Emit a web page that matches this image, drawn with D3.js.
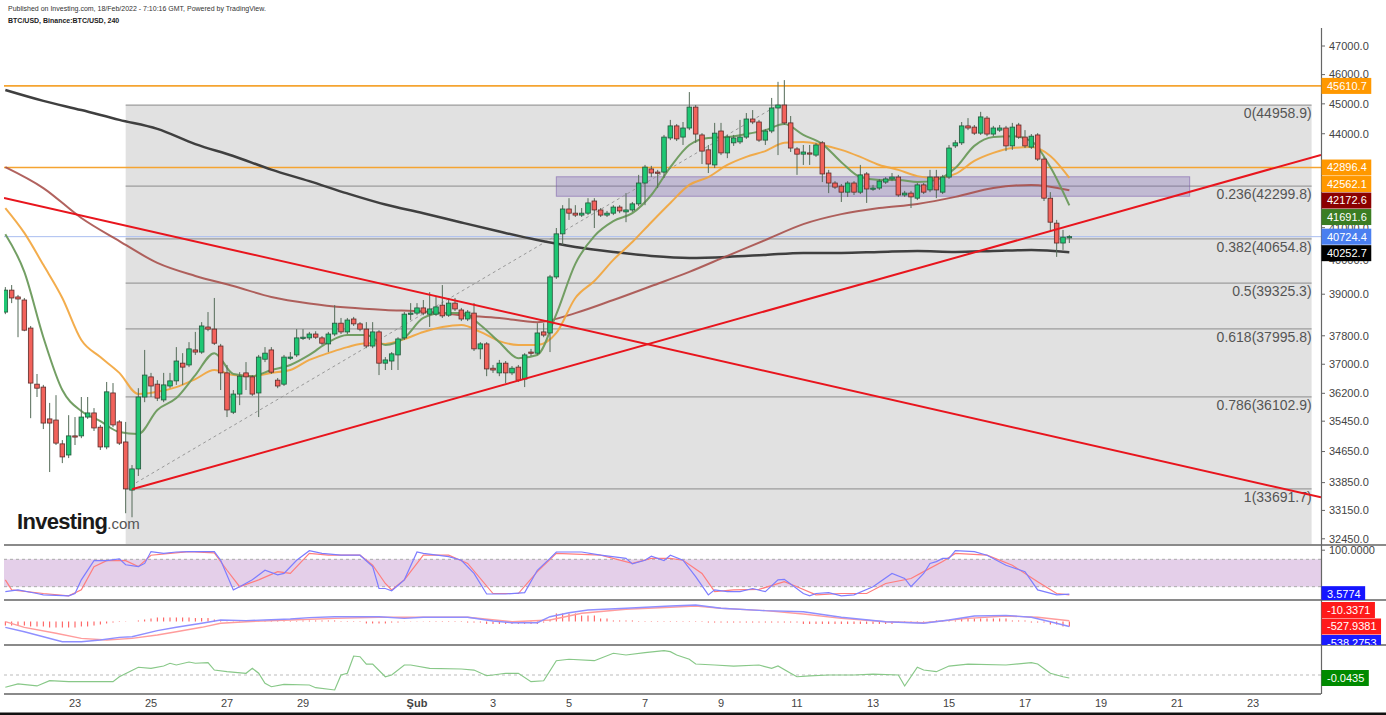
<!DOCTYPE html>
<html><head><meta charset="utf-8">
<script src="https://cdn.jsdelivr.net/npm/d3@7"></script>
<style>body{margin:0;background:#fff;overflow:hidden}svg{display:block;font-family:"Liberation Sans",Arial,sans-serif}</style>
</head><body><svg id="c" width="1386" height="715"></svg>
<script>
// ---------- DATA ----------
const candleOpen=[38480,39120,38920,38830,38020,36450,36370,35510,35480,34850,34560,35060,35060,35560,35670,35290,34770,36210,35430,34900,33660,34200,36100,36650,36450,36020,36400,36540,37030,36980,37400,37340,38050,37990,37510,36760,35690,36180,36760,36650,36210,37140,37400,36560,36450,37170,37260,37740,37740,37850,37740,37570,37850,38160,37910,38280,38140,37990,37510,37910,37030,37090,37260,37740,38420,38450,38600,38420,38420,38680,38390,38740,38540,38280,38450,37430,37570,36890,36760,37030,36760,36920,36590,37340,37310,37910,37880,39510,40810,41580,41450,41390,41450,41830,41550,41390,41450,41640,41490,41550,41740,42400,42850,42750,42750,43860,44260,43890,44190,44890,43960,43470,42980,44090,43370,43700,43730,43890,44490,44390,43790,44090,44860,44960,44360,43500,43330,43370,43300,43700,42720,42400,42300,42110,42400,42110,42690,42210,42240,42430,42530,42590,42020,42080,41920,42340,42180,42590,42110,42590,43600,43700,44260,44220,44020,44520,43990,44120,44190,43600,44290,43890,43560,43960,43170,41920,41140,40530,40710];
const candleHigh=[39210,39270,38980,38890,38080,36730,36430,35940,36150,34950,35610,35560,36100,36100,35800,35350,36510,36480,35480,35430,34300,36340,37400,36760,36560,36760,36760,37480,37310,37620,37910,38190,38480,38890,37570,36980,36290,36780,37060,36700,37260,37480,37480,36620,37260,37340,37990,37990,37910,37930,37790,37910,38680,38310,38310,38340,38190,38190,38190,37960,37200,37340,37760,38480,38740,38740,38830,39060,38920,39270,38890,38890,38600,38540,38740,37620,37620,36980,37120,37090,36950,36980,37310,37430,38160,38160,39570,40990,41700,41920,41700,41610,41920,41920,41610,41520,41700,41700,42080,41800,42660,42980,42950,42820,43960,44460,44320,44390,45400,44960,44020,43630,44360,44360,43960,43960,44460,44690,44790,44460,44160,45200,45750,45810,44590,43560,43630,43630,43700,43760,42820,42460,42370,42460,42460,42980,42750,42340,42530,42590,42720,42660,42150,42150,42400,42400,42820,42820,42660,43630,43790,44390,44520,44290,44730,44590,44260,44290,44260,44360,44360,44120,43990,44020,43240,42110,41240,40930,40770];
const candleLow=[38420,38740,37760,37930,35530,36100,35240,34120,34820,34350,34480,34820,35000,35510,35190,34690,34710,35290,34820,33080,32980,34020,35960,36100,35990,35960,36340,36430,36430,36920,37260,37290,37930,37540,36290,35560,35640,35880,36290,36130,35560,37060,36730,36340,36400,37120,37200,37680,37680,37710,37540,37340,37790,37850,37850,38080,37930,37450,37450,36700,36840,36840,36840,37680,38250,38390,38390,38050,38370,38310,38340,38510,38220,38220,37370,37140,36670,36760,36670,36480,36700,36510,36370,37230,37260,37760,37340,39450,40470,41240,41330,41330,41390,40990,41330,41330,41390,41450,41170,41490,41670,41700,42590,42240,42560,43790,43760,43630,44120,43700,43010,42720,42880,43300,43200,43600,43660,43830,44320,43730,43630,44020,43300,44290,43400,42660,42980,42980,43240,42430,42080,42210,41800,41960,42020,42050,41770,42150,42180,42370,42460,41960,41960,41610,41860,42050,42110,41920,42050,42530,43530,43630,44120,43960,43960,43920,43920,44060,43430,43470,43830,43530,43500,43110,41830,40870,40110,40320,40530];
const candleClose=[39120,38890,38860,37960,36480,36340,35400,35400,34870,34510,35060,35030,35560,35670,35270,34770,36240,35350,34870,33690,34200,36100,36700,36400,36070,36430,36540,37090,36920,37430,37340,38080,37990,37590,36760,35750,36180,36670,36650,36180,37200,37310,36780,36400,37200,37200,37740,37760,37850,37760,37590,37850,38160,37910,38250,38140,37990,37510,37910,37030,37120,37290,37710,38420,38450,38600,38450,38570,38630,38370,38740,38570,38280,38480,37430,37570,36870,36840,37030,36760,36890,36560,37260,37310,37880,37820,39510,40810,41580,41450,41390,41450,41770,41550,41390,41450,41640,41520,41550,41740,42400,42910,42720,42720,43890,44260,43830,44190,44890,43990,43430,43010,44020,43370,43890,43860,43890,44490,44390,43790,44090,44860,44960,44360,43530,43330,43400,43360,43630,42690,42400,42270,42110,42400,42110,42660,42210,42240,42460,42530,42590,42020,42080,41960,42340,42110,42590,42180,42590,43530,43700,44260,44190,44020,44560,43990,44190,44190,43600,44220,43890,43600,43920,43170,41920,41170,40530,40710,40724.4];
// moving averages (fast ones every 3 bars, slow ones every 6 bars)
const emaGreen=[40800,39660,37760,36290,35720,35450,35160,35110,35750,36070,36700,37310,36730,36670,36840,36980,37260,37620,37820,37820,37540,37740,38310,38450,38450,38110,37620,37170,37260,38420,39900,40740,41200,41450,42020,42910,43630,43860,43890,43990,44120,44320,43960,43660,43070,42590,42500,42500,42430,42500,42880,43600,43890,43920,43760,42910,41691.6];
const emaOrange=[41610,40840,39870,38890,37680,37200,36760,36180,36240,36370,36590,36840,36700,36670,36760,36840,37120,37310,37480,37590,37570,37710,37910,38050,38110,37910,37650,37540,37540,37880,38890,39390,40020,40560,41170,41770,42340,42590,42980,43240,43430,43700,43730,43630,43470,43240,42980,42820,42620,42560,42690,43110,43370,43530,43560,43270,42562.1];
const emaBrown=[42910,42240,41300,40590,39930,39540,39240,38920,38730,38610,38540,38500,38390,38310,38190,38450,38830,39240,39660,40140,40620,41110,41420,41610,41740,41960,42240,42340,42172.6];
const emaBlack=[45470,45100,44790,44460,44160,43660,43270,42830,42460,42070,41720,41450,41160,40880,40620,40410,40260,40140,40080,40110,40170,40230,40230,40260,40290,40260,40290,40320,40252.7];
const fastStep=3, slowStep=6;
// drawings
const fibLow={idx:19,price:33691.7}, fibHigh={idx:122,price:44958.9};
const fibRatios=[0,0.236,0.382,0.5,0.618,0.786,1];
const fibEnd=new Date(Date.UTC(2022,1,24,13));
const hLevels=[45610.7,42896.4];
const lastPrice=40724.4;
const zoneRect={startIdx:87,endIdx:187,top:42600,bottom:41980};
const trendDown=[[0,41915],[200,33760]];
const trendUp=[[20,33680],[200,42860]];
const priceTicks=[47000,46000,45000,44000,41000,40000,39000,37800,37000,36200,35450,34650,33850,33150,32450];
const dateTicks=[[2022,0,23],[2022,0,25],[2022,0,27],[2022,0,29],[2022,1,1],[2022,1,3],[2022,1,5],[2022,1,7],[2022,1,9],[2022,1,11],[2022,1,13],[2022,1,15],[2022,1,17],[2022,1,19],[2022,1,21],[2022,1,23]];
// stochastic RSI
const stochK=[[0,9],[2,13],[5,5],[6,2],[10,0],[11,5],[12,35],[14,77],[16,77],[18,81],[19,68],[21,64],[22,71],[23,97],[25,93],[27,96],[29,97],[33,97],[34,78],[36,13],[37,20],[39,35],[41,56],[43,46],[44,49],[46,78],[48,99],[50,93],[53,89],[56,89],[58,64],[59,16],[60,16],[61,11],[63,35],[65,96],[66,93],[70,86],[72,78],[74,49],[76,4],[79,4],[82,7],[84,56],[86,82],[87,96],[91,96],[94,89],[98,82],[99,70],[101,78],[102,87],[104,77],[105,89],[107,78],[109,42],[111,2],[112,13],[114,9],[116,9],[118,16],[120,9],[122,35],[123,36],[126,5],[127,0],[128,5],[130,7],[132,0],[134,2],[137,20],[140,49],[142,38],[143,20],[145,49],[146,71],[147,75],[148,82],[149,82],[150,99],[153,97],[155,89],[158,67],[161,53],[163,13],[166,2],[168,3.5774]];
const stochD=[[0,35],[1,13],[6,5],[10,0],[12,13],[14,64],[16,77],[19,77],[21,64],[23,89],[26,93],[29,97],[33,94],[35,56],[37,20],[40,35],[43,53],[45,49],[48,93],[51,89],[56,89],[58,67],[60,27],[61,13],[63,35],[66,89],[70,89],[73,71],[77,5],[81,5],[84,53],[87,93],[94,89],[99,71],[102,82],[105,82],[107,78],[110,49],[112,9],[115,13],[119,14],[123,31],[125,20],[128,2],[132,5],[136,5],[139,27],[143,38],[145,53],[148,75],[150,93],[155,89],[159,67],[163,31],[166,5],[168,2]];
// MACD
const macdLine=[[0,-620],[3,-1090],[6,-1630],[9,-2160],[12,-2160],[15,-1980],[18,-1690],[20,-1630],[24,-980],[27,-620],[31,-190],[34,160],[38,90],[41,160],[45,270],[48,410],[52,510],[56,510],[59,510],[63,340],[66,450],[70,450],[73,450],[77,50],[80,-130],[84,-130],[86,510],[89,940],[92,1230],[98,1410],[105,1660],[109,1770],[113,1410],[120,1160],[126,1050],[132,450],[139,-20],[145,-190],[149,160],[153,590],[158,660],[162,450],[165,-20],[168,-538.2753]];
const macdSignal=[[0,-20],[3,-620],[8,-1260],[12,-1800],[16,-1980],[20,-1800],[24,-1440],[27,-1090],[31,-620],[34,-190],[38,-20],[45,160],[52,340],[59,450],[66,450],[73,450],[80,-20],[86,160],[91,880],[98,1310],[105,1520],[109,1660],[113,1410],[120,1160],[126,800],[132,340],[139,-20],[145,-130],[152,340],[158,590],[163,450],[168,85]];
const macdHist=[-430,-430,-430,-430,-530,-530,-530,-640,-640,-640,-640,-640,-530,-530,-430,-320,-210,-110,50,30,0,110,210,320,430,430,430,430,430,430,370,370,370,210,110,-30,-30,-30,-30,-30,-30,60,60,60,60,60,60,110,110,110,110,110,110,50,50,50,50,-210,-210,-210,-210,-110,-110,30,30,30,30,50,50,50,50,50,50,-110,-110,-110,-260,-260,-260,-260,-260,-260,-260,-260,-260,-110,210,860,860,860,860,640,640,640,320,320,110,110,110,110,50,50,50,50,50,50,50,50,50,50,50,-110,-110,-110,-110,-110,-110,-110,-110,-110,-110,-110,-110,-110,-110,-110,-260,-260,-260,-260,-260,-260,-260,-260,-260,-260,-260,-260,-260,-260,-260,-160,-160,-160,-160,-160,-160,110,110,110,110,320,320,320,320,320,320,320,320,110,110,110,-110,-110,-110,-320,-320,-530,-530];
const macdLabels=[{v:-10.3371,c:"#ff1a1a"},{v:-527.9381,c:"#ff1a1a"},{v:-538.2753,c:"#1a1aff"}];
// oscillator (bottom pane)
const osc=[[0,-0.178],[2,-0.13],[5,-0.159],[7,-0.083],[10,-0.097],[17,-0.097],[18,-0.025],[21,0.112],[23,0.097],[25,0.13],[26,0.17],[27,0.145],[29,0.188],[30,0.17],[32,0.178],[33,0.072],[35,0.048],[38,0.025],[39,0.097],[40,0.025],[41,-0.12],[42,-0.17],[44,-0.135],[48,-0.145],[49,-0.184],[52,-0.217],[53,0],[54,0.025],[55,0.275],[56,0.265],[57,0.159],[58,0.159],[60,-0.025],[61,0],[63,0.145],[64,0.145],[67,0.097],[72,0.087],[74,0.072],[76,-0.01],[77,0],[79,0.025],[81,0.025],[83,-0.097],[85,-0.083],[87,0.207],[89,0.228],[93,0.207],[94,0.242],[96,0.315],[98,0.29],[101,0.323],[104,0.352],[105,0.338],[106,0.29],[108,0.228],[109,0.159],[112,0.145],[115,0.13],[119,0.145],[121,0.097],[122,0.13],[124,0.025],[125,-0.025],[127,-0.014],[130,0],[134,0],[137,0.014],[141,0],[142,-0.159],[144,0.112],[145,0.072],[147,0.048],[149,0.13],[152,0.159],[158,0.145],[162,0.178],[163,0.159],[165,0.025],[167,-0.025],[168,-0.0435]];

// ---------- LAYOUT ----------
const svg=d3.select("#c");
const L=4,R=1321;
const P={main:[30,545],stoch:[545,600],macd:[600,645],osc:[645,694]};
const barMs=4*3600*1000, firstBar=Date.UTC(2022,0,21,4);
const x=d3.scaleUtc().domain([new Date(Date.UTC(2022,0,23)),new Date(Date.UTC(2022,1,23))]).range([75,1253]);
const dIdx=i=>new Date(firstBar+i*barMs);
const xi=i=>x(dIdx(i));
const y=d3.scaleLog().domain([32450,47000]).range([538.8,46]);
const ys=d3.scaleLinear().domain([0,100]).range([595.8,550.2]);
const ym=d3.scaleLinear().domain([-2200,1700]).range([642.1,605.6]);
const yo=d3.scaleLinear().domain([-0.3,0.3]).range([695.7,654.3]);

svg.append("rect").attr("width",1386).attr("height",715).attr("fill","#fff");
const defs=svg.append("defs");
Object.entries(P).forEach(([k,[t,b]])=>{defs.append("clipPath").attr("id","cl-"+k).append("rect").attr("x",L).attr("y",t).attr("width",R-L).attr("height",b-t);
 defs.append("clipPath").attr("id","lab-"+k).append("rect").attr("x",R).attr("y",t).attr("width",1386-R).attr("height",b-t);});

// header
svg.append("text").attr("x",8).attr("y",11).attr("font-size",7).attr("fill","#333").text("Published on Investing.com, 18/Feb/2022 - 7:10:16 GMT, Powered by TradingView.");
svg.append("text").attr("x",8).attr("y",23).attr("font-size",7).attr("font-weight","bold").attr("fill","#222").text("BTC/USD, Binance:BTC/USD, 240");

// ---------- MAIN PANE ----------
const gm=svg.append("g").attr("clip-path","url(#cl-main)");
const fx0=xi(fibLow.idx), fx1=x(fibEnd);
const fibP=r=>fibHigh.price-r*(fibHigh.price-fibLow.price);
gm.append("rect").attr("x",fx0).attr("width",fx1-fx0).attr("y",y(fibHigh.price)).attr("height",y(fibP(1.618))-y(fibHigh.price)).attr("fill","#e1e1e1");
fibRatios.forEach(r=>{const yy=y(fibP(r));
 gm.append("line").attr("x1",fx0).attr("x2",fx1).attr("y1",yy).attr("y2",yy).attr("stroke","#9c9c9c").attr("stroke-width",1.3);
 gm.append("text").attr("x",fx1).attr("y",yy+13).attr("text-anchor","end").attr("font-size",14).attr("fill","#555").text(`${r}(${fibP(r).toFixed(1)})`);});
hLevels.forEach(v=>gm.append("line").attr("x1",L).attr("x2",R).attr("y1",y(v)).attr("y2",y(v)).attr("stroke","#f5a431").attr("stroke-width",1.6));
gm.append("line").attr("x1",L).attr("x2",R).attr("y1",y(lastPrice)).attr("y2",y(lastPrice)).attr("stroke","#a9bdf0").attr("stroke-width",1);
gm.append("rect").attr("x",xi(zoneRect.startIdx)).attr("width",xi(zoneRect.endIdx)-xi(zoneRect.startIdx)).attr("y",y(zoneRect.top)).attr("height",y(zoneRect.bottom)-y(zoneRect.top)).attr("fill","rgba(120,95,175,0.3)").attr("stroke","rgba(120,90,170,0.55)").attr("stroke-width",1);
gm.append("line").attr("x1",xi(fibLow.idx)).attr("y1",y(fibLow.price)).attr("x2",xi(fibHigh.idx)).attr("y2",y(fibHigh.price)).attr("stroke","#999").attr("stroke-dasharray","3,3").attr("stroke-width",1);

const lineIdx=(step)=>d3.line().x((d,i)=>xi(i*step)).y(d=>y(d)).curve(d3.curveMonotoneX);
gm.append("path").attr("d",lineIdx(slowStep)(emaBlack)).attr("fill","none").attr("stroke","#3f3f3f").attr("stroke-width",2.5);
gm.append("path").attr("d",lineIdx(slowStep)(emaBrown)).attr("fill","none").attr("stroke","#a9514c").attr("stroke-width",2).attr("opacity",0.9);
gm.append("path").attr("d",lineIdx(fastStep)(emaOrange)).attr("fill","none").attr("stroke","#f2a43a").attr("stroke-width",2).attr("opacity",0.9);
gm.append("path").attr("d",lineIdx(fastStep)(emaGreen)).attr("fill","none").attr("stroke","#6b9a5c").attr("stroke-width",2).attr("opacity",0.95);

// candles
const cg=gm.append("g");
candleOpen.forEach((o,i)=>{const c=candleClose[i],h=candleHigh[i],l=candleLow[i],cx=xi(i),up=c>=o;
 cg.append("line").attr("x1",cx).attr("x2",cx).attr("y1",y(h)).attr("y2",y(l)).attr("stroke","#556b58").attr("stroke-width",1);
 const t=y(Math.max(o,c)),b=y(Math.min(o,c));
 cg.append("rect").attr("x",cx-2.3).attr("width",4.6).attr("y",t).attr("height",Math.max(b-t,1.2)).attr("fill",up?"#1ec774":"#f2625b").attr("stroke",up?"#24553a":"#5a2b29").attr("stroke-width",0.8);});

// trend lines (extended)
function ext(pts,both){const[x1,y1]=[xi(pts[0][0]),y(pts[0][1])],[x2,y2]=[xi(pts[1][0]),y(pts[1][1])];const s=(y2-y1)/(x2-x1);
 const xa=both?L:x1;return [[xa,y1+(xa-x1)*s],[R,y1+(R-x1)*s]];}
[[trendDown,true],[trendUp,false]].forEach(([p,b])=>{const e=ext(p,b);
 gm.append("line").attr("x1",e[0][0]).attr("y1",e[0][1]).attr("x2",e[1][0]).attr("y2",e[1][1]).attr("stroke","#e8151d").attr("stroke-width",2);});

// logo
const logo=svg.append("text").attr("x",17).attr("y",529);
logo.append("tspan").attr("font-size",22).attr("font-weight","bold").attr("fill","#1a1a1a").attr("letter-spacing",-0.7).text("Investing");
logo.append("tspan").attr("font-size",15).attr("fill","#555").text(".com");

// ---------- STOCH ----------
const gs=svg.append("g").attr("clip-path","url(#cl-stoch)");
gs.append("rect").attr("x",L).attr("width",R-L).attr("y",ys(80)).attr("height",ys(20)-ys(80)).attr("fill","#e4cfe9");
[80,20].forEach(v=>gs.append("line").attr("x1",L).attr("x2",R).attr("y1",ys(v)).attr("y2",ys(v)).attr("stroke","#aaa").attr("stroke-dasharray","3,3"));
const pl=(sc)=>d3.line().x(d=>xi(d[0])).y(d=>sc(d[1]));
gs.append("path").attr("d",pl(ys)(stochD)).attr("fill","none").attr("stroke","#ff7d7d").attr("stroke-width",1.2);
gs.append("path").attr("d",pl(ys)(stochK)).attr("fill","none").attr("stroke","#7d7dff").attr("stroke-width",1.2);

// ---------- MACD ----------
const gmc=svg.append("g").attr("clip-path","url(#cl-macd)");
macdHist.forEach((h,i)=>gmc.append("line").attr("x1",xi(i)).attr("x2",xi(i)).attr("y1",ym(0)).attr("y2",ym(h)).attr("stroke","#ff4d4d").attr("stroke-width",1));
gmc.append("path").attr("d",pl(ym)(macdSignal)).attr("fill","none").attr("stroke","#ff9c9c").attr("stroke-width",1.4);
gmc.append("path").attr("d",pl(ym)(macdLine)).attr("fill","none").attr("stroke","#8f8fff").attr("stroke-width",1.4);

// ---------- OSC ----------
const go=svg.append("g").attr("clip-path","url(#cl-osc)");
go.append("line").attr("x1",L).attr("x2",R).attr("y1",yo(0)).attr("y2",yo(0)).attr("stroke","#bbb").attr("stroke-dasharray","3,3");
go.append("path").attr("d",pl(yo)(osc)).attr("fill","none").attr("stroke","#88c888").attr("stroke-width",1.2);

// ---------- FRAME ----------
[545,600,645].forEach(v=>svg.append("line").attr("x1",L).attr("x2",1386).attr("y1",v).attr("y2",v).attr("stroke","#8a8a8a").attr("stroke-width",2));
svg.append("line").attr("x1",L).attr("x2",R).attr("y1",694).attr("y2",694).attr("stroke","#8a8a8a").attr("stroke-width",2);
svg.append("line").attr("x1",R+0.5).attr("x2",R+0.5).attr("y1",28).attr("y2",694).attr("stroke","#666").attr("stroke-width",1.2);

// price axis ticks
const ax=svg.append("g").attr("clip-path","url(#lab-main)");
priceTicks.forEach(v=>{const yy=y(v);
 ax.append("line").attr("x1",R).attr("x2",R+4).attr("y1",yy).attr("y2",yy).attr("stroke","#666");
 ax.append("text").attr("x",R+8).attr("y",yy).attr("dy","0.35em").attr("font-size",11).attr("fill","#444").text(v.toFixed(1));});
// stoch tick
svg.append("line").attr("x1",R).attr("x2",R+4).attr("y1",ys(100)).attr("y2",ys(100)).attr("stroke","#666");
svg.append("text").attr("x",R+8).attr("y",ys(100)).attr("dy","0.35em").attr("font-size",11).attr("fill","#444").text("100.0000");

// value labels with collision
function labels(list,pane,sc,fmt){const [t,b]=P[pane];const g=svg.append("g").attr("clip-path","url(#lab-"+pane+")");
 const arr=list.map(d=>({...d,y:sc(d.v)})).sort((a,b)=>a.y-b.y);const gap=16.5;
 for(let i=1;i<arr.length;i++) if(arr[i].y-arr[i-1].y<gap) arr[i].y=arr[i-1].y+gap;
 const over=arr[arr.length-1].y-(b-2); if(over>0&&arr.length>1) arr.forEach(d=>d.y-=over);
 arr.forEach(d=>{const tx=g.append("text").attr("x",R+6).attr("y",d.y).attr("dy","0.35em").attr("font-size",11).attr("fill","#fff").text(fmt(d.v));
  const w=tx.node().getComputedTextLength()+10;
  g.insert("rect","text").attr("x",R+0.5).attr("y",d.y-8).attr("width",w).attr("height",16).attr("fill",d.c);
 });}
labels([{v:45610.7,c:"#ff9800"},{v:42896.4,c:"#ff9800"},{v:emaOrange[emaOrange.length-1],c:"#ff9800"},{v:emaBrown[emaBrown.length-1],c:"#8b0000"},{v:emaGreen[emaGreen.length-1],c:"#3b7d23"},{v:lastPrice,c:"#4a7ff0"},{v:emaBlack[emaBlack.length-1],c:"#000"}],"main",y,v=>v.toFixed(1));
labels([{v:stochK[stochK.length-1][1],c:"#1515ff"}],"stoch",ys,v=>v.toFixed(4));
labels(macdLabels,"macd",ym,v=>v.toFixed(4));
labels([{v:osc[osc.length-1][1],c:"#008a00"}],"osc",yo,v=>v.toFixed(4));

// date axis
dateTicks.forEach(([yr,m,d])=>{const dt=new Date(Date.UTC(yr,m,d));const first=d===1;
 svg.append("text").attr("x",x(dt)).attr("y",707).attr("text-anchor","middle").attr("font-size",11).attr("fill","#444").attr("font-weight",first?"bold":"normal").text(first?"Şub":String(d));});
svg.append("rect").attr("x",0).attr("y",712.5).attr("width",1386).attr("height",3).attr("fill","#111");
</script></body></html>
